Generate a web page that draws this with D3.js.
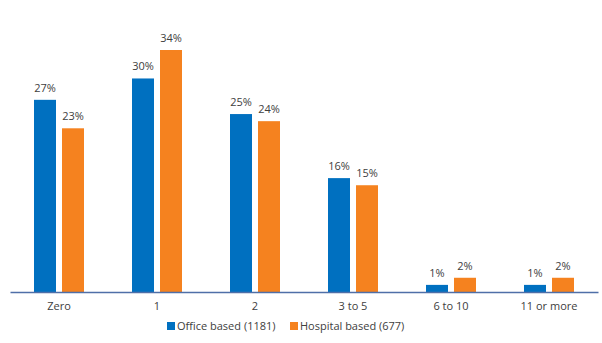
<!DOCTYPE html>
<html><head><meta charset="utf-8">
<script src="https://cdn.jsdelivr.net/npm/d3@7"></script>
<style>body{margin:0;background:#fff}svg{display:block}text{font-family:"Open Sans","Noto Sans",sans-serif;fill:#404040}</style>
</head><body><svg id="c" width="602" height="343"></svg>
<script>
const categories = ["Zero","1","2","3 to 5","6 to 10","11 or more"];
const seriesNames = ["Office based (1181)","Hospital based (677)"];
const office = [27,30,25,16,1,1];
const hospital = [23,34,24,15,2,2];
const colors = ["#0070C0","#F5821F"];

const svg = d3.select("#c");
const plotLeft = 10, plotRight = 598, plotBase = 292, plotTop = 50;
const x = d3.scaleBand().domain(categories).range([plotLeft,plotRight]);
const inner = d3.scaleBand().domain([0,1]).range([0,50]).paddingInner(6/28);
const y = d3.scaleLinear().domain([0,34]).range([plotBase,plotTop]);
const series = [office, hospital];

series.forEach((vals,si)=>{
  const g = svg.append("g");
  g.selectAll("rect").data(vals).join("rect")
    .attr("x",(d,i)=>x(categories[i])+x.bandwidth()/2-25+inner(si))
    .attr("width",inner.bandwidth())
    .attr("y",d=>y(d))
    .attr("height",d=>plotBase-y(d))
    .attr("fill",colors[si]);
  g.selectAll("text").data(vals).join("text")
    .attr("x",(d,i)=>x(categories[i])+x.bandwidth()/2-25+inner(si)+inner.bandwidth()/2)
    .attr("y",d=>y(d)-8)
    .attr("text-anchor","middle")
    .attr("font-size","11px")
    .text(d=>d+"%");
});

const axis = svg.append("g").attr("transform",`translate(0,${plotBase})`)
  .call(d3.axisBottom(x).tickSize(0).tickPadding(10));
axis.select(".domain").attr("stroke","#4F6FA8").attr("stroke-width",1.3);
axis.selectAll("text").attr("font-size","11px").attr("fill","#404040").style("font-family",'"Open Sans","Noto Sans",sans-serif');

const legX = [167,290];
const leg = svg.append("g");
seriesNames.forEach((n,i)=>{
  leg.append("rect").attr("x",legX[i]).attr("y",322).attr("width",8).attr("height",8).attr("fill",colors[i]);
  leg.append("text").attr("x",legX[i]+10).attr("y",330).attr("font-size","11px").text(n);
});
</script></body></html>
